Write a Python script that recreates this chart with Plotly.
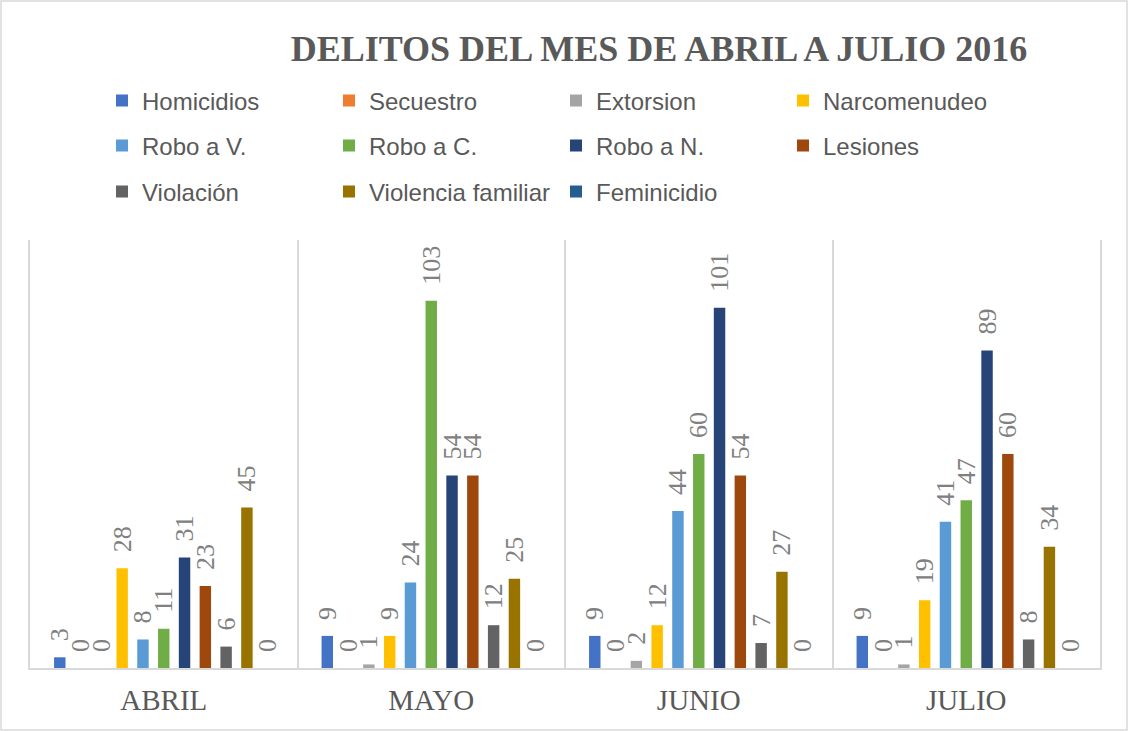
import plotly.graph_objects as go

months = ["ABRIL", "MAYO", "JUNIO", "JULIO"]
series_names = ["Homicidios", "Secuestro", "Extorsion", "Narcomenudeo",
                "Robo a V.", "Robo a C.", "Robo a N.", "Lesiones",
                "Violación", "Violencia familiar", "Feminicidio"]
homicidios = [3, 9, 9, 9]
secuestro = [0, 0, 0, 0]
extorsion = [0, 1, 2, 1]
narcomenudeo = [28, 9, 12, 19]
robo_v = [8, 24, 44, 41]
robo_c = [11, 103, 60, 47]
robo_n = [31, 54, 101, 89]
lesiones = [23, 54, 54, 60]
violacion = [6, 12, 7, 8]
violencia_familiar = [45, 25, 27, 34]
feminicidio = [0, 0, 0, 0]

series_values = [homicidios, secuestro, extorsion, narcomenudeo, robo_v, robo_c,
                 robo_n, lesiones, violacion, violencia_familiar, feminicidio]
colors = ["#4472C4", "#ED7D31", "#A5A5A5", "#FFC000", "#5B9BD5", "#70AD47",
          "#264478", "#9E480E", "#636363", "#997300", "#255E91"]
legend_ids = ["legend"] * 4 + ["legend2"] * 4 + ["legend3"] * 3

fig = go.Figure()
for name, vals, col, lg in zip(series_names, series_values, colors, legend_ids):
    fig.add_trace(go.Bar(
        name=name, x=months, y=vals, marker=dict(color=col, line=dict(width=0)),
        text=["\u00a0\u00a0" + str(v) for v in vals], textposition="outside", textangle=-90,
        constraintext="none", cliponaxis=False,
        textfont=dict(family="Liberation Serif", size=26, color="#808080"),
        legend=lg,
    ))

W, H = 1128, 731
ml, mr, mt, mb = 30, 28, 240, 63
pw, ph = W - ml - mr, H - mt - mb

def py(p):
    return (H - mb - p) / ph

legend_common = dict(orientation="h", entrywidth=182, entrywidthmode="pixels",
                     font=dict(family="Liberation Sans", size=24, color="#595959"),
                     x=(102 - ml) / pw, xanchor="left", yanchor="middle",
                     bgcolor="rgba(0,0,0,0)", traceorder="normal")

fig.update_layout(
    width=W, height=H,
    margin=dict(l=ml, r=mr, t=mt, b=mb),
    paper_bgcolor="white", plot_bgcolor="white",
    barmode="group", bargap=0.145, bargroupgap=0.45,
    title=dict(text="DELITOS DEL MES DE ABRIL A JULIO 2016",
               x=659 / W, xanchor="center", xref="container",
               y=1 - 48 / H, yanchor="middle", yref="container",
               font=dict(family="Liberation Serif", size=36, color="#595959", weight="bold")),
    legend=dict(**legend_common, y=py(101)),
    legend2=dict(**legend_common, y=py(146)),
    legend3=dict(**legend_common, y=py(192)),
    xaxis=dict(type="category", range=[-0.5, 3.5], tickson="boundaries",
               showgrid=True, gridcolor="#D9D9D9", gridwidth=1.5,
               showline=True, linecolor="#D9D9D9", linewidth=1.5, ticks="",
               ticklabelstandoff=5,
               tickfont=dict(family="Liberation Serif", size=29, color="#595959")),
    yaxis=dict(range=[0, 120], showgrid=False, zeroline=False, showticklabels=False,
               showline=True, mirror=True, linecolor="#D9D9D9", linewidth=1.5),
    shapes=[dict(type="rect", xref="paper", yref="paper",
                 x0=-(ml - 1) / pw, x1=1 + (mr - 1) / pw,
                 y0=-(mb - 1) / ph, y1=1 + (mt - 1) / ph,
                 line=dict(color="#D9D9D9", width=1.5), fillcolor="rgba(0,0,0,0)",
                 layer="below")],
)

fig.write_html("out.html", config={"displayModeBar": False},
               post_script="document.body.style.margin='0';")
